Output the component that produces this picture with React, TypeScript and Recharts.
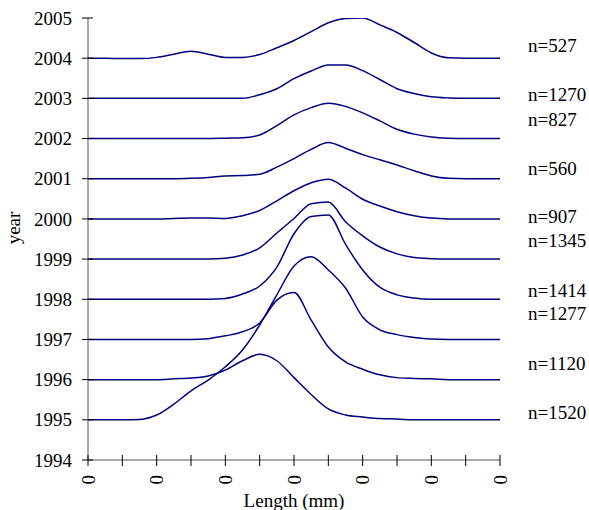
import { LineChart, Line, XAxis, YAxis, ReferenceDot } from 'recharts';

// sample positions along the length axis (tick units)
const xs = [0, 0.5, 1, 1.5, 2, 2.5, 3, 3.5, 4, 4.5, 5, 5.5, 6, 6.5, 7, 7.5, 8, 8.5, 9, 9.5, 10, 10.5, 11, 11.5, 12];

const y1995 = [1995, 1995, 1995, 1995.01, 1995.12, 1995.39, 1995.72, 1995.99, 1996.32, 1996.74, 1997.36, 1998.11, 1998.83, 1999.06, 1998.73, 1998.28, 1997.56, 1997.24, 1997.12, 1997.05, 1997.01, 1997, 1997, 1997, 1997];
const y1996 = [1996, 1996, 1996, 1996, 1996, 1996.02, 1996.04, 1996.09, 1996.24, 1996.47, 1996.63, 1996.47, 1996.05, 1995.63, 1995.27, 1995.12, 1995.07, 1995.03, 1995.02, 1995, 1995, 1995, 1995, 1995, 1995];
const y1997 = [1997, 1997, 1997, 1997, 1997, 1997, 1997, 1997.02, 1997.09, 1997.19, 1997.41, 1997.98, 1998.17, 1997.48, 1996.81, 1996.44, 1996.26, 1996.12, 1996.05, 1996.03, 1996.02, 1996, 1996, 1996, 1996];
const y1998 = [1998, 1998, 1998, 1998, 1998, 1998, 1998, 1998, 1998.02, 1998.13, 1998.33, 1998.8, 1999.63, 2000.06, 2000.1, 1999.37, 1998.73, 1998.3, 1998.11, 1998.03, 1998, 1998, 1998, 1998, 1998];
const y1999 = [1999, 1999, 1999, 1999, 1999, 1999, 1999, 1999, 1999.02, 1999.1, 1999.28, 1999.65, 2000.01, 2000.38, 2000.42, 1999.93, 1999.58, 1999.3, 1999.13, 1999.04, 1999.01, 1999, 1999, 1999, 1999];
const y2000 = [2000, 2000, 2000, 2000, 2000, 2000.01, 2000.02, 2000.02, 2000.01, 2000.08, 2000.21, 2000.45, 2000.7, 2000.9, 2000.99, 2000.77, 2000.49, 2000.32, 2000.18, 2000.08, 2000.02, 2000, 2000, 2000, 2000];
const y2001 = [2001, 2001, 2001, 2001, 2001, 2001, 2001.01, 2001.03, 2001.07, 2001.08, 2001.11, 2001.29, 2001.5, 2001.73, 2001.9, 2001.76, 2001.6, 2001.47, 2001.34, 2001.2, 2001.07, 2001.01, 2001, 2001, 2001];
const y2002 = [2002, 2002, 2002, 2002, 2002, 2002, 2002, 2002, 2002.01, 2002.02, 2002.09, 2002.32, 2002.59, 2002.77, 2002.88, 2002.8, 2002.64, 2002.44, 2002.23, 2002.11, 2002.04, 2002.01, 2002, 2002, 2002];
const y2003 = [2003, 2003, 2003, 2003, 2003, 2003, 2003, 2003, 2003, 2003, 2003.09, 2003.24, 2003.49, 2003.68, 2003.83, 2003.83, 2003.69, 2003.47, 2003.24, 2003.12, 2003.04, 2003.01, 2003, 2003, 2003];
const y2004 = [2004, 2004, 2003.99, 2003.99, 2004.02, 2004.1, 2004.17, 2004.1, 2004.02, 2004.02, 2004.09, 2004.26, 2004.44, 2004.66, 2004.88, 2004.99, 2005, 2004.83, 2004.64, 2004.39, 2004.13, 2004.01, 2004, 2004, 2004];

const seriesNames = ['1995', '1996', '1997', '1998', '1999', '2000', '2001', '2002', '2003', '2004'];
const seriesValues = [y1995, y1996, y1997, y1998, y1999, y2000, y2001, y2002, y2003, y2004];

const yearTicks = [1994, 1995, 1996, 1997, 1998, 1999, 2000, 2001, 2002, 2003, 2004, 2005];
const xTicks = [0, 1, 2, 3, 4, 5, 6, 7, 8, 9, 10, 11, 12];
const xTickLabels = ['0', '', '0', '', '0', '', '0', '', '0', '', '0', '', '0'];

const sampleLabels = ['n=527', 'n=1270', 'n=827', 'n=560', 'n=907', 'n=1345', 'n=1414', 'n=1277', 'n=1120', 'n=1520'];
const sampleLabelYears = [2004.32, 2003.11, 2002.49, 2001.27, 2000.06, 1999.48, 1998.23, 1997.64, 1996.41, 1995.18];

const FONT = 'Liberation Serif, Times New Roman, DejaVu Serif, serif';
const FS = 19;
const LINE = '#000080';

const chartData = xs.map((x, i) => {
  const row: Record<string, number> = { x };
  seriesNames.forEach((name, k) => { row[name] = seriesValues[k][i]; });
  return row;
});

function XTick({ x, y, index }: any) {
  const label = xTickLabels[index] ?? '';
  return (
    <g>
      <line x1={x} x2={x} y1={y - 5} y2={y + 6} stroke="#000" strokeWidth={1} />
      {label && (
        <text x={x} y={y + 15} transform={`rotate(-90 ${x} ${y + 15})`} textAnchor="end" dy="0.35em"
          style={{ fontFamily: FONT, fontSize: FS }} fill="#000">{label}</text>
      )}
    </g>
  );
}

function YTick({ x, y, payload }: any) {
  return (
    <g>
      <line x1={x - 6} x2={x + 5} y1={y} y2={y} stroke="#000" strokeWidth={1} />
      <text x={x - 16} y={y} dy="0.35em" textAnchor="end" style={{ fontFamily: FONT, fontSize: FS }} fill="#000">
        {payload.value}
      </text>
    </g>
  );
}

export default function App() {
  return (
    <div style={{ fontFamily: FONT, position: 'absolute', left: 0, top: 0 }}>
      <LineChart width={589} height={510} data={chartData}
        margin={{ top: 18, right: 89, bottom: 0, left: 8 }}>
        <XAxis type="number" dataKey="x" domain={[0, 12]} ticks={xTicks} interval={0}
          tickSize={0} tickMargin={0} tickLine={false} tick={<XTick />} height={50}
          axisLine={{ stroke: '#555' }}
          label={{
            content: () => (
              <text x={294} y={507} textAnchor="middle" style={{ fontFamily: FONT, fontSize: FS }} fill="#000">Length (mm)</text>
            ),
          }} />
        <YAxis type="number" domain={[1994, 2005]} ticks={yearTicks} interval={0} width={80}
          tickSize={0} tickMargin={0} tickLine={false} tick={<YTick />} allowDataOverflow
          axisLine={{ stroke: '#555' }}
          label={{
            content: () => (
              <text x={20} y={228} transform="rotate(-90 20 228)" textAnchor="middle"
                style={{ fontFamily: FONT, fontSize: FS }} fill="#000">year</text>
            ),
          }} />
        {seriesNames.map(name => (
          <Line key={name} dataKey={name} type="monotone" stroke={LINE} strokeWidth={1.5}
            dot={false} activeDot={false} isAnimationActive={false} />
        ))}
        {sampleLabels.map((t, i) => (
          <ReferenceDot key={t} x={12} y={sampleLabelYears[i]} r={0} fill="none" stroke="none"
            label={{ value: t, position: 'right', offset: 28, fill: '#000', style: { fontFamily: FONT, fontSize: FS } }} />
        ))}
      </LineChart>
    </div>
  );
}
